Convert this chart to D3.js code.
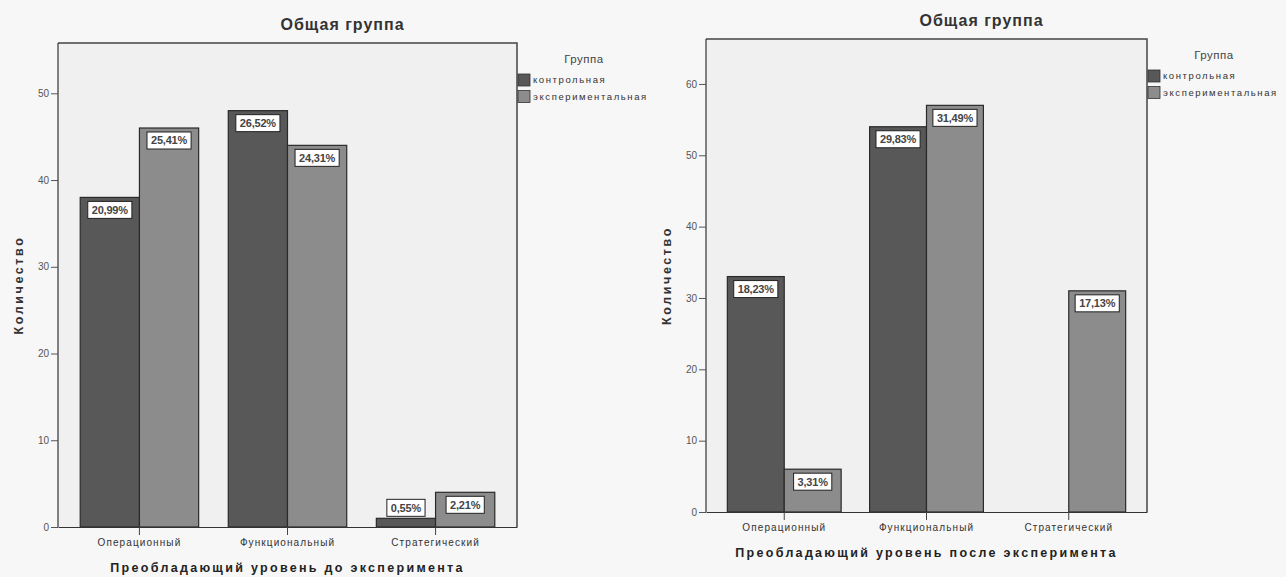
<!DOCTYPE html>
<html>
<head>
<meta charset="utf-8">
<script src="https://cdn.jsdelivr.net/npm/d3@7"></script>
<style>
  body { margin: 0; background: #f7f7f7; }
  svg { display: block; font-family: "Liberation Sans", Arial, sans-serif; }
</style>
</head>
<body>
<div id="chart"></div>
<script>
// data
const categories = ["Операционный", "Функциональный", "Стратегический"];
const groups = ["контрольная", "экспериментальная"];

const beforeControl = [38, 48, 1];
const beforeExperimental = [46, 44, 4];
const beforeControlPct = ["20,99%", "26,52%", "0,55%"];
const beforeExperimentalPct = ["25,41%", "24,31%", "2,21%"];
const beforeTicks = [0, 10, 20, 30, 40, 50];

const afterControl = [33, 54, 0];
const afterExperimental = [6, 57, 31];
const afterControlPct = ["18,23%", "29,83%", ""];
const afterExperimentalPct = ["3,31%", "31,49%", "17,13%"];
const afterTicks = [0, 10, 20, 30, 40, 50, 60];

const colors = ["#585858", "#8c8c8c"];

const svg = d3.select("#chart")
    .append("svg")
    .attr("width", 1286)
    .attr("height", 577);

function drawChart(cfg) {
    const { x0, x1, y0, y1 } = cfg.frame;

    const x = d3.scaleBand().domain(categories).range([x0, x1])
        .paddingInner(0.2).paddingOuter(0.15);
    const xg = d3.scaleBand().domain(groups).range([0, x.bandwidth()]);
    const y = d3.scaleLinear().domain([0, cfg.yMax]).range([y1, y0]);

    const g = svg.append("g");

    // plot background
    g.append("rect")
        .attr("x", x0).attr("y", y0)
        .attr("width", x1 - x0).attr("height", y1 - y0)
        .attr("fill", "#f0f0f0");

    const rows = [];
    categories.forEach((c, i) => {
        rows.push({ cat: c, grp: groups[0], v: cfg.control[i], pct: cfg.controlPct[i] });
        rows.push({ cat: c, grp: groups[1], v: cfg.experimental[i], pct: cfg.experimentalPct[i] });
    });
    const shown = rows.filter(d => d.v > 0);

    // bars
    g.selectAll(".bar").data(shown).enter()
        .append("rect")
        .attr("class", "bar")
        .attr("x", d => x(d.cat) + xg(d.grp))
        .attr("y", d => y(d.v))
        .attr("width", xg.bandwidth())
        .attr("height", d => y(0) - y(d.v))
        .attr("fill", d => colors[groups.indexOf(d.grp)])
        .attr("stroke", "#2a2a2a")
        .attr("stroke-width", 1.2);

    // frame top + right
    g.append("path")
        .attr("d", `M${x0},${y0}H${x1}V${y1}`)
        .attr("fill", "none")
        .attr("stroke", "#444")
        .attr("stroke-width", 1.5);

    // y axis
    const yAxis = d3.axisLeft(y).tickValues(cfg.ticks).tickSize(7).tickSizeOuter(0).tickPadding(2);
    const ya = g.append("g").attr("transform", `translate(${x0},0)`).call(yAxis);
    ya.select(".domain").attr("d", `M0,${y0}V${y1}`).attr("stroke", "#333").attr("stroke-width", 1.2);
    ya.selectAll(".tick line").attr("stroke", "#555");
    ya.selectAll(".tick text").style("font-size", "10px").attr("fill", "#555");

    // x axis
    const xAxis = d3.axisBottom(x).tickSize(8).tickSizeOuter(0).tickPadding(4);
    const xa = g.append("g").attr("transform", `translate(0,${y1})`).call(xAxis);
    xa.select(".domain").attr("stroke", "#333").attr("stroke-width", 1.2);
    xa.selectAll(".tick line").attr("stroke", "#444");
    xa.selectAll(".tick text")
        .style("font-size", "10px")
        .style("letter-spacing", "1.1px")
        .attr("fill", "#333");

    // value labels
    const lab = g.selectAll(".lab").data(shown).enter()
        .append("g").attr("class", "lab");
    lab.append("rect").attr("fill", "#fff").attr("stroke", "#222").attr("stroke-width", 1);
    lab.append("text")
        .attr("text-anchor", "middle")
        .attr("dy", "0.35em")
        .style("font-size", "11px")
        .style("font-weight", "bold")
        .style("letter-spacing", "-0.2px")
        .attr("fill", "#444")
        .text(d => d.pct);
    lab.each(function (d) {
        const t = d3.select(this).select("text");
        const w = t.node().getComputedTextLength() + 8;
        const h = 17;
        const cx = x(d.cat) + xg(d.grp) + xg.bandwidth() / 2;
        const barH = y(0) - y(d.v);
        const top = barH > h + 6 ? y(d.v) + 4 : y(d.v) - h - 2;
        d3.select(this).select("rect")
            .attr("x", cx - w / 2).attr("y", top).attr("width", w).attr("height", h);
        t.attr("x", cx).attr("y", top + h / 2);
    });

    // chart title
    g.append("text")
        .attr("x", (x0 + x1) / 2 + 55)
        .attr("y", y0 - 19)
        .attr("text-anchor", "middle")
        .attr("dy", "0.35em")
        .style("font-size", "16px")
        .style("font-weight", "bold")
        .style("letter-spacing", "1px")
        .attr("fill", "#333")
        .text("Общая группа");

    // x axis title
    g.append("text")
        .attr("x", (x0 + x1) / 2)
        .attr("y", y1 + 41)
        .attr("text-anchor", "middle")
        .attr("dy", "0.35em")
        .style("font-size", "12.5px")
        .style("font-weight", "bold")
        .style("letter-spacing", "2.3px")
        .attr("fill", "#222")
        .text(cfg.xTitle);

    // y axis title
    g.append("text")
        .attr("transform", `translate(${x0 - 39},${(y0 + y1) / 2}) rotate(-90)`)
        .attr("text-anchor", "middle")
        .attr("dy", "0.35em")
        .style("font-size", "12.5px")
        .style("font-weight", "bold")
        .style("letter-spacing", "2.6px")
        .attr("fill", "#333")
        .text("Количество");

    // legend
    const lx = x1 + 1;
    g.append("text")
        .attr("x", lx + 66)
        .attr("y", y0 + 16)
        .attr("text-anchor", "middle")
        .attr("dy", "0.35em")
        .style("font-size", "11.5px")
        .style("letter-spacing", "0.5px")
        .attr("fill", "#444")
        .text("Группа");

    groups.forEach((grp, i) => {
        const ly = y0 + 37 + i * 16.5;
        g.append("rect")
            .attr("x", lx).attr("y", ly - 6)
            .attr("width", 12).attr("height", 12)
            .attr("fill", colors[i])
            .attr("stroke", "#333").attr("stroke-width", 0.8);
        g.append("text")
            .attr("x", lx + 15)
            .attr("y", ly)
            .attr("dy", "0.35em")
            .style("font-size", "9.5px")
            .style("letter-spacing", "1.6px")
            .attr("fill", "#333")
            .text(grp);
    });
}

drawChart({
    frame: { x0: 58, x1: 517, y0: 43, y1: 527 },
    yMax: 55.8,
    ticks: beforeTicks,
    control: beforeControl,
    experimental: beforeExperimental,
    controlPct: beforeControlPct,
    experimentalPct: beforeExperimentalPct,
    xTitle: "Преобладающий уровень до эксперимента"
});

drawChart({
    frame: { x0: 706, x1: 1147, y0: 39, y1: 512 },
    yMax: 66.3,
    ticks: afterTicks,
    control: afterControl,
    experimental: afterExperimental,
    controlPct: afterControlPct,
    experimentalPct: afterExperimentalPct,
    xTitle: "Преобладающий уровень после эксперимента"
});
</script>
</body>
</html>
